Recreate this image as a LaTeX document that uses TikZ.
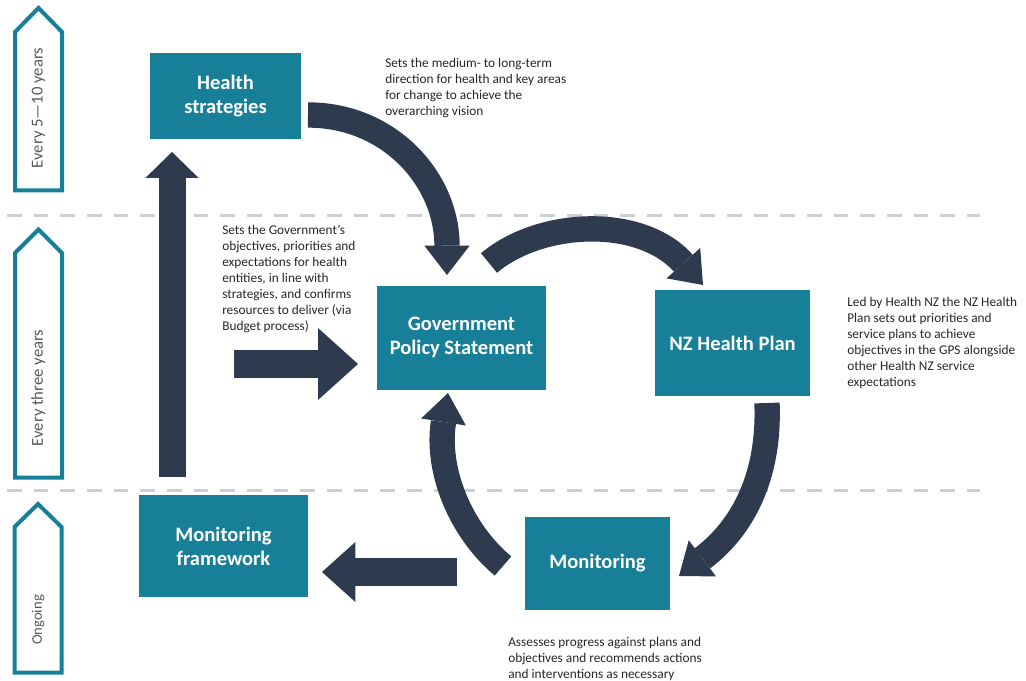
\documentclass[tikz,border=0pt]{standalone}
\usepackage{fontspec}
\setmainfont{Carlito}
\usetikzlibrary{arrows.meta}

\definecolor{hteal}{RGB}{24,127,152}
\definecolor{hnavy}{RGB}{46,58,78}
\definecolor{hdash}{RGB}{202,208,216}
\definecolor{htext}{RGB}{38,38,38}
\definecolor{hgrey}{RGB}{89,89,89}

\tikzset{
  box/.style={fill=hteal, text=white, font=\fontsize{15.4}{18}\selectfont\bfseries, align=center, inner sep=0pt},
  note/.style={text=htext, font=\fontsize{10}{12}\selectfont, align=left, anchor=north west, inner sep=0pt},
  period/.style={draw=hteal, line width=3pt, fill=white, line join=miter},
  periodlabel/.style={text=hgrey, font=\fontsize{12.5}{15}\selectfont, rotate=90, inner sep=0pt},
  divider/.style={draw=hdash, line width=2.25pt, dash pattern=on 11pt off 9pt},
  fatarrow/.style={draw=hnavy, line width=19pt, -{Triangle[length=22pt,width=34pt,line width=0pt]}},
}

\begin{document}
\begin{tikzpicture}[x=0.75pt,y=0.75pt,yscale=-1]
\useasboundingbox (0,0) rectangle (1026,681);

%Straight Lines
\draw [divider] (7,216) -- (980,216) ;
%Straight Lines
\draw [divider] (7,490) -- (980,490) ;

%Shape: Up Arrow
\draw [period] (15,190.5) -- (15,32) -- (38.5,8) -- (62,32) -- (62,190.5) -- cycle ;
%Shape: Up Arrow
\draw [period] (15,477.5) -- (15,253) -- (38.5,229.5) -- (62,253) -- (62,477.5) -- cycle ;
%Shape: Up Arrow
\draw [period] (14.5,672.5) -- (14.5,527) -- (38,504) -- (61.5,527) -- (61.5,672.5) -- cycle ;

% Text Node
\draw (38.5,108) node (lab1) [periodlabel] {Every 5—10 years};
% Text Node
\draw (38.5,388) node (lab2) [periodlabel] {Every three years};
% Text Node
\draw (38,620) node (lab3) [periodlabel, font=\fontsize{11}{13}\selectfont] {Ongoing};

%Shape: Rectangle
\draw (225.5,96) node (hs) [box, minimum width=113.25pt, minimum height=64.5pt, text depth=3pt] {Health\\strategies};
%Shape: Rectangle
\draw (461.5,338) node (gps) [box, minimum width=126.75pt, minimum height=78pt, text depth=3pt] {Government\\Policy Statement};
%Shape: Rectangle
\draw (732.5,343) node (nzhp) [box, minimum width=116.25pt, minimum height=79.5pt] {NZ Health Plan};
%Shape: Rectangle
\draw (597.5,563) node (mon) [box, minimum width=108.75pt, minimum height=69.75pt] {Monitoring};
%Shape: Rectangle
\draw (223.5,546) node (monfw) [box, minimum width=126.75pt, minimum height=76.5pt] {Monitoring\\framework};

%arrow ends
\coordinate (hsout) at (308,115);
\coordinate (gpsin) at (447,275);
\coordinate (gpsout) at (489,263);
\coordinate (nzhpin) at (703,285);
\coordinate (nzhpout) at (767,403);
\coordinate (monin) at (679,576);
\coordinate (monout) at (503,566);
\coordinate (gpsback) at (448,393);
\coordinate (monleft) at (457,572);
\coordinate (monfwin) at (322,572);
\coordinate (monfwup) at (172,477);
\coordinate (hsin) at (172,152);
\coordinate (noteout) at (234,364);
\coordinate (gpsleft) at (358,364);

%Curve Lines
\draw [fatarrow] (hsout) .. controls (390,115) and (447,180) .. (gpsin) ;
%Curve Lines
\draw [fatarrow] (gpsout) .. controls (540,220) and (640,215) .. (nzhpin) ;
%Curve Lines
\draw [fatarrow] (nzhpout) .. controls (770,480) and (740,530) .. (monin) ;
%Curve Lines
\draw [fatarrow] (monout) .. controls (460,530) and (436,470) .. (gpsback) ;
%Straight Lines
\draw [fatarrow, line width=21.5pt, -{Triangle[length=25pt,width=45pt,line width=0pt]}] (monleft) -- (monfwin) ;
%Straight Lines
\draw [fatarrow, line width=20.25pt, -{Triangle[length=19.5pt,width=40pt,line width=0pt]}] (monfwup) -- (hsin) ;
%Straight Lines
\draw [fatarrow, line width=21pt, -{Triangle[length=30pt,width=54pt,line width=0pt]}] (noteout) -- (gpsleft) ;

% Text Node
\draw (385,58) node (txths) [note] {Sets the medium- to long-term\\direction for health and key areas\\for change to achieve the\\overarching vision};
% Text Node
\draw (222,225) node (txtgps) [note] {Sets the Government’s\\objectives, priorities and\\expectations for health\\entities, in line with\\strategies, and confirms\\resources to deliver (via\\Budget process)};
% Text Node
\draw (847,297) node (txtnzhp) [note] {Led by Health NZ the NZ Health\\Plan sets out priorities and\\service plans to achieve\\objectives in the GPS alongside\\other Health NZ service\\expectations};
% Text Node
\draw (508,637) node (txtmon) [note] {Assesses progress against plans and\\objectives and recommends actions\\and interventions as necessary};

\end{tikzpicture}
\end{document}
